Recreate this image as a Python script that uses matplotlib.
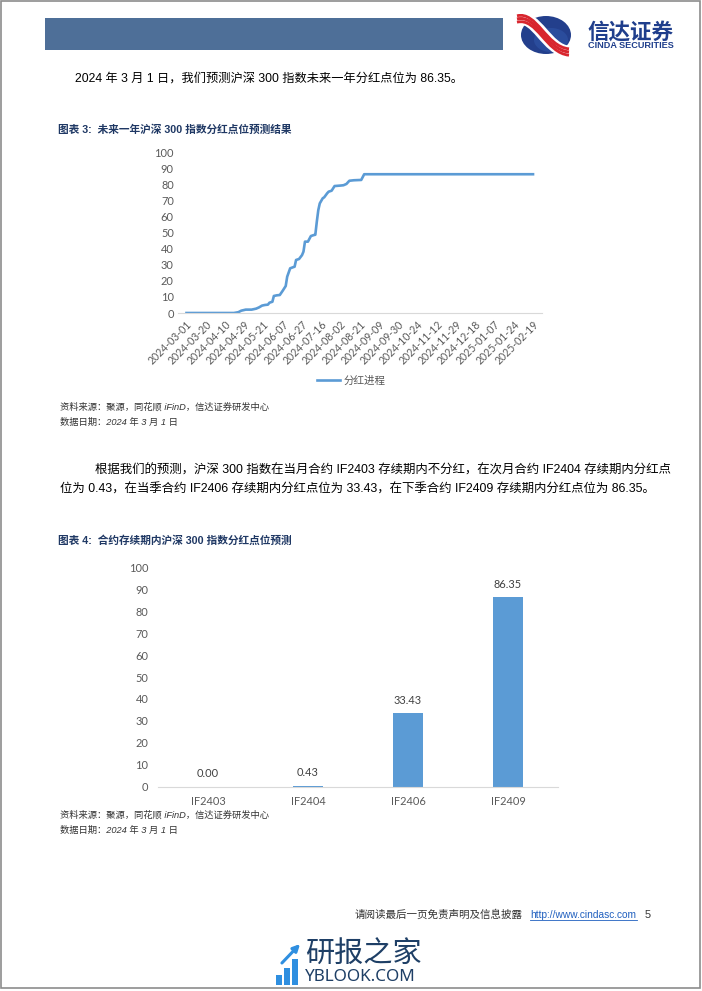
import matplotlib
matplotlib.use("Agg")
import matplotlib.pyplot as plt
from matplotlib.patches import Rectangle, Ellipse, PathPatch
from matplotlib.path import Path

W, H = 702, 991
CJK = ['Liberation Sans', 'Noto Sans CJK SC']
TICKF = ['Lato', 'Noto Sans CJK SC']
plt.rcParams['font.family'] = CJK

# ---------------- data ----------------
date_labels = ['2024-03-01', '2024-03-20', '2024-04-10', '2024-04-29', '2024-05-21',
               '2024-06-07', '2024-06-27', '2024-07-16', '2024-08-02', '2024-08-21',
               '2024-09-09', '2024-09-30', '2024-10-24', '2024-11-12', '2024-11-29',
               '2024-12-18', '2025-01-07', '2025-01-24', '2025-02-19']
label_step = 13  # trading days between labels
# trading-day index and dividend points
day_index = [0, 32, 35, 37, 40, 44, 47, 49, 51, 53, 55, 56, 58, 59, 61, 63, 65, 67, 68,
             70, 72, 73, 74, 76, 78, 79, 80, 82, 84, 86, 87, 88, 89, 90, 92, 93, 95, 96,
             98, 100, 104, 106, 108, 110, 113, 118, 120, 234]
dividend_pts = [0, 0, 0.5, 1.45, 2.1, 2.1, 2.7, 3.5, 4.6, 5.0, 5.2, 6.4, 7.0, 10.6, 11.0,
                11.2, 13.9, 16.8, 22.6, 27.8, 28.5, 28.8, 33.0, 33.6, 36.0, 38.2, 44.4,
                44.4, 47.9, 48.5, 48.7, 56.8, 64.0, 68.2, 71.4, 72.0, 74.5, 75.5, 76.1,
                79.0, 79.3, 79.5, 80.3, 82.3, 82.6, 82.8, 86.35, 86.35]
series_name = '分红进程'

contracts = ['IF2403', 'IF2404', 'IF2406', 'IF2409']
contract_div = [0.00, 0.43, 33.43, 86.35]

fig = plt.figure(figsize=(W / 100, H / 100), dpi=100)

# page axes in pixel coordinates
page = fig.add_axes([0, 0, 1, 1])
page.set_xlim(0, W)
page.set_ylim(H, 0)
page.axis('off')

# page border
page.add_patch(Rectangle((1, 1), W - 3, H - 4, fill=False, ec='#8c8c8c', lw=1.2))

# header bar
page.add_patch(Rectangle((45, 18), 458, 32, fc='#4E6F98', ec='none'))
# logo
page.add_patch(Ellipse((546, 35), 50, 38, fc='#233F8C', ec='none'))
page.add_patch(Ellipse((551, 40), 34, 24, fc='#2F55A8', ec='none', alpha=0.6))
codes = [Path.MOVETO, Path.CURVE4, Path.CURVE4, Path.CURVE4]
base = [(517, 19), (537, 14), (546, 50), (569, 52)]
page.add_patch(PathPatch(Path(base, codes), fill=False, ec='white', lw=9, capstyle='round'))
for off, lw in [(-3.2, 2.0), (0, 2.2), (3.2, 2.0)]:
    v = [(x, y + off) for x, y in base]
    page.add_patch(PathPatch(Path(v, codes), fill=False, ec='#D8262E', lw=lw))
page.text(631, 32, '信达证券', fontsize=15.5, fontweight='bold', color='#1F3E8C',
          ha='center', va='center', family=['Noto Sans CJK SC'])
page.text(631, 45.5, 'CINDA SECURITIES', fontsize=6.6, fontweight='bold', color='#1F3E8C',
          ha='center', va='center', family=['Liberation Sans'])

# body text
page.text(75, 79, '2024 年 3 月 1 日，我们预测沪深 300 指数未来一年分红点位为 86.35。',
          fontsize=8.8, color='black', va='center')
page.text(58, 130, '图表 3:  未来一年沪深 300 指数分红点位预测结果', fontsize=7.7,
          fontweight='bold', color='#1F3864', va='center')
page.text(60, 407, '资料来源：聚源，同花顺 iFinD，信达证券研发中心', fontsize=6.7,
          color='#333333', va='center', style='italic')
page.text(60, 422, '数据日期：2024 年 3 月 1 日', fontsize=6.7, color='#333333',
          va='center', style='italic')
page.text(95, 471, '根据我们的预测，沪深 300 指数在当月合约 IF2403 存续期内不分红，在次月合约 IF2404 存续期内分红点',
          fontsize=8.95, color='black', va='center')
page.text(60, 490, '位为 0.43，在当季合约 IF2406 存续期内分红点位为 33.43，在下季合约 IF2409 存续期内分红点位为 86.35。',
          fontsize=8.95, color='black', va='center')
page.text(58, 541, '图表 4:  合约存续期内沪深 300 指数分红点位预测', fontsize=7.7,
          fontweight='bold', color='#1F3864', va='center')
page.text(60, 815, '资料来源：聚源，同花顺 iFinD，信达证券研发中心', fontsize=6.7,
          color='#333333', va='center', style='italic')
page.text(60, 830, '数据日期：2024 年 3 月 1 日', fontsize=6.7, color='#333333',
          va='center', style='italic')

# footer
page.text(355, 915, '请阅读最后一页免责声明及信息披露', fontsize=7.6, color='#333333', va='center')
page.text(530, 915, 'http://www.cindasc.com', fontsize=7.3, color='#1F5FBF', va='center')
page.plot([530, 637], [920, 920], color='#1F5FBF', lw=0.6)
page.text(645, 915, '5', fontsize=7.8, color='#333333', va='center')

# watermark
for x0, hgt in [(276, 10), (284, 17), (292, 26)]:
    page.add_patch(Rectangle((x0, 985 - hgt), 6, hgt, fc='#2F8FE0', ec='none'))
page.annotate('', xy=(302, 942), xytext=(280, 965),
              arrowprops=dict(arrowstyle='-|>', color='#2F8FE0', lw=2.2, mutation_scale=10))
page.text(305, 955, '研报之家', fontsize=21, color='#1E3F66', va='center',
          family=['Noto Sans CJK SC'])
page.text(305, 977, 'YBLOOK.COM', fontsize=12.3, color='#1E3F66', va='center',
          family=['Noto Sans'])

# ---------------- chart 1: line ----------------
px_per_day = (533 - 186.5) / 234
x_left, x_right = 178, 542
y0, y100 = 313, 152.3
ax1 = fig.add_axes([x_left / W, 1 - y0 / H, (x_right - x_left) / W, (y0 - y100) / H])
ax1.set_xlim(-(186.5 - x_left) / px_per_day, 234 + (x_right - 533) / px_per_day)
ax1.set_ylim(0, 100)
ax1.plot(day_index, dividend_pts, color='#5B9BD5', lw=1.9, solid_joinstyle='round',
         label=series_name)
for s in ['top', 'right', 'left']:
    ax1.spines[s].set_visible(False)
ax1.spines['bottom'].set_color('#D9D9D9')
ax1.spines['bottom'].set_linewidth(0.8)
ax1.set_yticks(range(0, 101, 10))
ax1.set_xticks([i * label_step for i in range(len(date_labels))])
ax1.set_xticklabels(date_labels, rotation=45, ha='right', rotation_mode='anchor')
ax1.tick_params(axis='both', length=0, colors='#595959')
ax1.tick_params(axis='y', pad=3, labelsize=7.9)
ax1.tick_params(axis='x', pad=4, labelsize=7.6)
for lab in ax1.get_xticklabels() + ax1.get_yticklabels():
    lab.set_family(TICKF)
ax1.patch.set_alpha(0)
leg = ax1.legend(loc='center', bbox_to_anchor=(0.475, -0.42), frameon=False,
                 fontsize=7.6, handlelength=2.2, handletextpad=0.3, labelcolor='#595959')

# ---------------- chart 2: bars ----------------
bx_left, bx_right = 158, 558
by0, by100 = 786.7, 567.3
ax2 = fig.add_axes([bx_left / W, 1 - by0 / H, (bx_right - bx_left) / W, (by0 - by100) / H])
xs = list(range(len(contracts)))
ax2.bar(xs, contract_div, width=0.3, color='#5B9BD5')
ax2.set_xlim(-0.5, len(contracts) - 0.5)
ax2.set_ylim(0, 100)
ax2.set_yticks(range(0, 101, 10))
ax2.set_xticks(xs)
ax2.set_xticklabels(contracts)
for s in ['top', 'right', 'left']:
    ax2.spines[s].set_visible(False)
ax2.spines['bottom'].set_color('#D9D9D9')
ax2.spines['bottom'].set_linewidth(0.8)
ax2.tick_params(axis='both', length=0, colors='#595959', labelsize=7.9)
ax2.tick_params(axis='y', pad=7)
ax2.tick_params(axis='x', pad=7)
for lab in ax2.get_xticklabels() + ax2.get_yticklabels():
    lab.set_family(TICKF)
for x, v in zip(xs, contract_div):
    ax2.text(x, v + 3.5, f'{v:.2f}', ha='center', va='bottom', fontsize=7.9,
             color='#404040', family=TICKF)
ax2.patch.set_alpha(0)

fig.savefig('out.png', dpi=100)
